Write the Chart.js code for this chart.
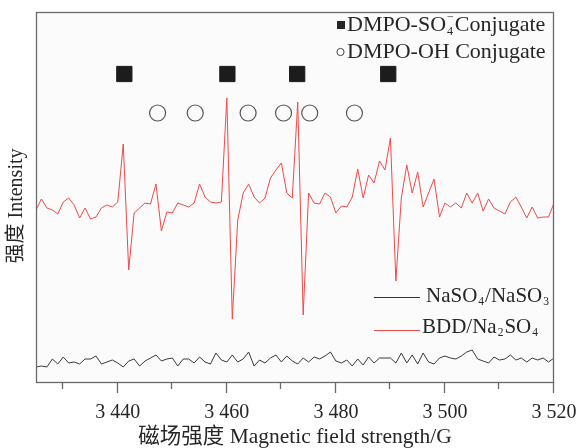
<!DOCTYPE html>
<html>
<head>
<meta charset="utf-8">
<script src="https://cdn.jsdelivr.net/npm/chart.js@4.4.0/dist/chart.umd.min.js"></script>
<style>
  html, body { margin: 0; padding: 0; background: #fff; }
</style>
</head>
<body>
<canvas id="epr-spectrum" width="579" height="448"></canvas>
<script>
// Magnetic field sweep (G), one reading per gauss
const fieldG = [
  3425, 3426, 3427, 3428, 3429, 3430, 3431, 3432, 3433, 3434, 3435, 3436,
  3437, 3438, 3439, 3440, 3441, 3442, 3443, 3444, 3445, 3446, 3447, 3448,
  3449, 3450, 3451, 3452, 3453, 3454, 3455, 3456, 3457, 3458, 3459, 3460,
  3461, 3462, 3463, 3464, 3465, 3466, 3467, 3468, 3469, 3470, 3471, 3472,
  3473, 3474, 3475, 3476, 3477, 3478, 3479, 3480, 3481, 3482, 3483, 3484,
  3485, 3486, 3487, 3488, 3489, 3490, 3491, 3492, 3493, 3494, 3495, 3496,
  3497, 3498, 3499, 3500, 3501, 3502, 3503, 3504, 3505, 3506, 3507, 3508,
  3509, 3510, 3511, 3512, 3513, 3514, 3515, 3516, 3517, 3518, 3519, 3520
];

// BDD/Na2SO4 signal (arbitrary intensity units, offset upward)
const bddSignal = [
  172, 183, 174, 172, 168, 180, 184, 177, 164, 174, 163, 165,
  174, 177, 175, 180, 238, 112, 169, 174, 179, 178, 198, 151,
  170, 169, 179, 177, 175, 179, 198, 185, 180, 179, 180, 284,
  63, 162, 189, 198, 185, 179, 184, 204, 212, 219, 189, 184,
  280, 67, 189, 179, 178, 189, 185, 169, 176, 175, 185, 213,
  184, 207, 199, 221, 212, 244, 101, 184, 217, 189, 210, 175,
  189, 203, 165, 179, 175, 179, 174, 189, 179, 189, 171, 183,
  174, 171, 168, 180, 185, 175, 164, 175, 164, 165, 165, 179
];

// NaSO4/NaSO3 blank signal
const blankSignal = [
  15, 16, 15, 23, 18, 25, 19, 20, 18, 23, 23, 26,
  18, 20, 22, 19, 15, 21, 23, 16, 21, 24, 27, 21,
  23, 24, 16, 23, 23, 19, 25, 20, 18, 29, 22, 20,
  27, 20, 23, 30, 16, 22, 19, 24, 27, 20, 26, 21,
  18, 24, 20, 25, 23, 26, 30, 21, 19, 22, 16, 23,
  17, 25, 19, 24, 24, 24, 19, 29, 19, 27, 18, 29,
  20, 18, 24, 26, 24, 23, 26, 30, 32, 23, 21, 19,
  25, 22, 23, 27, 22, 24, 20, 24, 22, 24, 20, 24
];

// Adduct line positions (G)
const so4Lines = [3441.2, 3460.1, 3472.9, 3489.6];
const ohLines = [3447.3, 3454.2, 3463.9, 3470.4, 3475.2, 3483.4];
const so4MarkLevel = 308;
const ohMarkLevel = 269;

// Axis ticks
const majorTicks = [3440, 3460, 3480, 3500, 3520];
const minorTicks = [3430, 3450, 3470, 3490, 3510];

const serif = '"Liberation Serif", "Times New Roman", "Noto Sans CJK SC", serif';
const ink = '#262626';
const redLine = '#ee4a4a';

// Draw text runs with small subscripts / superscripts
function drawRich(ctx, parts, x, y, size) {
  let cx = x;
  ctx.textBaseline = 'middle';
  ctx.textAlign = 'left';
  parts.forEach(p => {
    if (p.t) {
      ctx.font = size + 'px ' + serif;
      ctx.fillText(p.t, cx, y);
      cx += ctx.measureText(p.t).width;
    } else {
      const s = size * 0.55;
      ctx.font = s + 'px ' + serif;
      let w = 0;
      if (p.sub) {
        ctx.fillText(p.sub, cx + 1, y + size * 0.3);
        w = Math.max(w, ctx.measureText(p.sub).width);
      }
      if (p.sup) {
        ctx.fillText(p.sup, cx + 1, y - size * 0.32);
        w = Math.max(w, ctx.measureText(p.sup).width);
      }
      cx += w + 2;
    }
  });
}

const framePlugin = {
  id: 'frame',
  beforeDraw(chart) {
    const { ctx, chartArea: a } = chart;
    ctx.save();
    ctx.fillStyle = '#fbfbfb';
    ctx.fillRect(a.left, a.top, a.right - a.left, a.bottom - a.top);
    ctx.restore();
  },
  afterDraw(chart) {
    const { ctx, chartArea: a } = chart;
    const x = chart.scales.x;
    ctx.save();
    // plot frame
    ctx.strokeStyle = '#6a6a6a';
    ctx.lineWidth = 1.3;
    ctx.strokeRect(a.left + 0.5, a.top + 0.5, a.right - a.left - 1, a.bottom - a.top);
    // outward tick marks on the field axis
    ctx.beginPath();
    majorTicks.forEach(v => {
      const px = Math.round(x.getPixelForValue(v)) - 0.5;
      ctx.moveTo(px, a.bottom);
      ctx.lineTo(px, a.bottom + 11);
    });
    minorTicks.forEach(v => {
      const px = Math.round(x.getPixelForValue(v)) - 0.5;
      ctx.moveTo(px, a.bottom);
      ctx.lineTo(px, a.bottom + 7);
    });
    ctx.stroke();

    // intensity axis title, rotated
    ctx.save();
    ctx.translate(17, 206);
    ctx.rotate(-Math.PI / 2);
    ctx.fillStyle = ink;
    ctx.font = '20px ' + serif;
    ctx.textAlign = 'center';
    ctx.textBaseline = 'middle';
    ctx.fillText('强度 Intensity', 0, 0);
    ctx.restore();

    // adduct key, top right
    ctx.fillStyle = ink;
    ctx.fillRect(337, 21, 8, 8);
    ctx.strokeStyle = '#444';
    ctx.lineWidth = 1;
    ctx.beginPath();
    ctx.arc(340.5, 52, 3.6, 0, Math.PI * 2);
    ctx.stroke();
    drawRich(ctx, [{ t: 'DMPO-SO' }, { sub: '4', sup: '−' }, { t: 'Conjugate' }], 347, 25, 22);
    drawRich(ctx, [{ t: 'DMPO-OH Conjugate' }], 347, 52, 22);

    // series key, lower right
    ctx.lineWidth = 1;
    ctx.strokeStyle = '#333';
    ctx.beginPath();
    ctx.moveTo(374, 297.5);
    ctx.lineTo(420, 297.5);
    ctx.stroke();
    ctx.strokeStyle = redLine;
    ctx.beginPath();
    ctx.moveTo(374, 330.5);
    ctx.lineTo(420, 330.5);
    ctx.stroke();
    ctx.fillStyle = ink;
    drawRich(ctx, [{ t: 'NaSO' }, { sub: '4' }, { t: '/NaSO' }, { sub: '3' }], 426, 296, 21);
    drawRich(ctx, [{ t: 'BDD/Na' }, { sub: '2' }, { t: 'SO' }, { sub: '4' }], 422, 327, 21);
    ctx.restore();
  }
};

const ctx = document.getElementById('epr-spectrum').getContext('2d');

const eprChart = new Chart(ctx, {
  type: 'line',
  data: {
    datasets: [
      {
        label: 'BDD/Na2SO4',
        data: fieldG.map((g, i) => ({ x: g, y: bddSignal[i] })),
        borderColor: redLine,
        borderWidth: 1,
        pointRadius: 0,
        tension: 0
      },
      {
        label: 'NaSO4/NaSO3',
        data: fieldG.map((g, i) => ({ x: g, y: blankSignal[i] })),
        borderColor: '#3a3a3a',
        borderWidth: 1,
        pointRadius: 0,
        tension: 0
      },
      {
        type: 'scatter',
        label: 'DMPO-SO4 Conjugate',
        data: so4Lines.map(g => ({ x: g, y: so4MarkLevel })),
        pointStyle: 'rect',
        pointRadius: 10.8,
        backgroundColor: '#1c1c1c',
        borderColor: '#1c1c1c',
        borderWidth: 1
      },
      {
        type: 'scatter',
        label: 'DMPO-OH Conjugate',
        data: ohLines.map(g => ({ x: g, y: ohMarkLevel })),
        pointStyle: 'circle',
        pointRadius: 8,
        backgroundColor: 'rgba(0, 0, 0, 0)',
        borderColor: '#555',
        borderWidth: 1.2
      }
    ]
  },
  options: {
    responsive: false,
    animation: false,
    devicePixelRatio: 1,
    layout: { padding: { top: 12, right: 25, left: 0, bottom: 0 } },
    scales: {
      x: {
        type: 'linear',
        min: 3425,
        max: 3520,
        afterBuildTicks: s => { s.ticks = majorTicks.map(v => ({ value: v })); },
        afterFit: s => {
          s.height = 66;
          s.paddingLeft = 0;
          s.paddingRight = 0;
        },
        grid: { display: false, drawTicks: false },
        border: { display: false },
        ticks: {
          autoSkip: false,
          maxRotation: 0,
          padding: 19,
          color: ink,
          font: { family: serif, size: 20 },
          callback: v => String(v).replace(/^(\d)(\d{3})$/, '$1 $2')
        },
        title: {
          display: true,
          text: '磁场强度 Magnetic field strength/G',
          color: ink,
          font: { family: serif, size: 21.5 },
          padding: { top: 0, bottom: -2 }
        }
      },
      y: {
        min: 0,
        max: 370,
        afterFit: s => { s.width = 36; },
        grid: { display: false, drawTicks: false },
        border: { display: false },
        ticks: { display: false },
        title: { display: false }
      }
    },
    plugins: {
      legend: { display: false },
      tooltip: { enabled: false }
    }
  },
  plugins: [framePlugin]
});
</script>
</body>
</html>
